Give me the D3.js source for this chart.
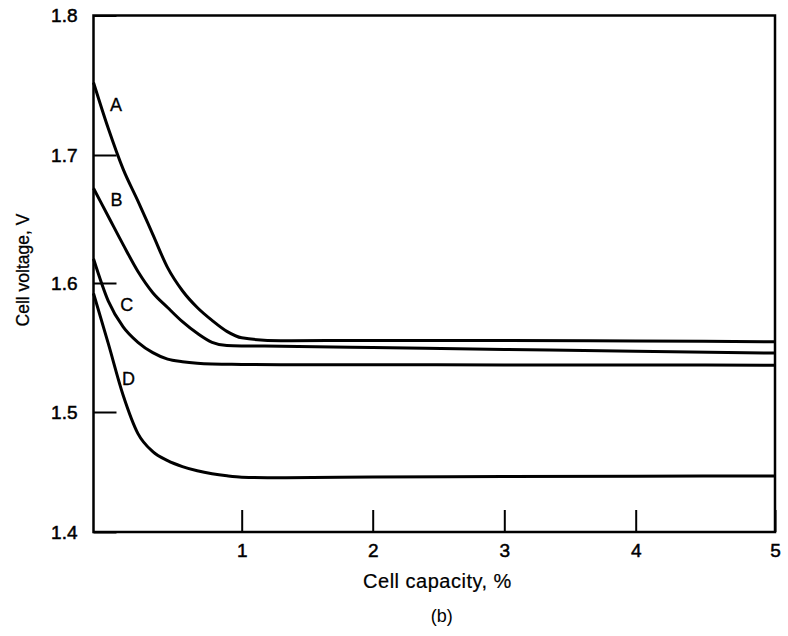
<!DOCTYPE html>
<html>
<head>
<meta charset="utf-8">
<script src="https://cdn.jsdelivr.net/npm/d3@7/dist/d3.min.js"></script>
<style>
  html, body { margin: 0; padding: 0; background: #fff; }
  svg { display: block; }
  text { font-family: "Liberation Sans", Arial, Helvetica, sans-serif; fill: #000; }
</style>
</head>
<body>
<svg id="chart" width="788" height="636"></svg>
<script>
// ---- data ----
const capacity = [0, 0.1, 0.2, 0.3, 0.4, 0.5, 0.6, 0.7, 0.8, 0.9, 1.0, 1.3, 2, 3, 4, 5];
const voltageA = [1.752, 1.719, 1.689, 1.664, 1.638, 1.612, 1.594, 1.581, 1.571, 1.5625, 1.5575, 1.5552, 1.5555, 1.5555, 1.555, 1.5545];
const voltageB = [1.674, 1.652, 1.630, 1.609, 1.5925, 1.581, 1.570, 1.561, 1.554, 1.5515, 1.5512, 1.5510, 1.5500, 1.5485, 1.547, 1.5457];
const voltageC = [1.619, 1.586, 1.566, 1.554, 1.546, 1.541, 1.539, 1.5378, 1.5372, 1.537, 1.5368, 1.5366, 1.5366, 1.5365, 1.5364, 1.5363];
const voltageD = [1.592, 1.553, 1.513, 1.482, 1.467, 1.4595, 1.4545, 1.451, 1.4485, 1.4468, 1.4457, 1.4452, 1.4458, 1.4462, 1.4465, 1.4467];
const seriesNames = ["A", "B", "C", "D"];
const labelCapacity = [0.152, 0.155, 0.224, 0.236];
const labelVoltage = [1.736, 1.6656, 1.583, 1.5256];
const yTicks = [1.4, 1.5, 1.6, 1.7, 1.8];
const xTicks = [1, 2, 3, 4, 5];
const xTitle = "Cell capacity, %";
const yTitle = "Cell voltage, V";
const caption = "(b)";

(function () {
  // ---- layout ----
  const svg = d3.select("#chart");
  const pLeft = 93.5, pRight = 775, pTop = 15.5, pBottom = 532;

  // scales follow the (slightly uneven) printed tick spacing
  const x = d3.scaleLinear().domain([0, 1, 2, 3, 4, 5]).range([pLeft, 241.7, 372.7, 504.3, 635.7, pRight]);
  const y = d3.scaleLinear().domain([1.4, 1.5, 1.6, 1.7, 1.8]).range([pBottom, 412, 283, 155, pTop]);

  // y axis (ticks inward)
  const yAxis = svg.append("g")
    .attr("transform", `translate(${pLeft},0)`)
    .call(d3.axisLeft(y).tickValues(yTicks).tickFormat(d3.format(".1f")).tickSizeInner(-23).tickSizeOuter(0).tickPadding(16));
  yAxis.select(".domain").remove();
  yAxis.selectAll("line").attr("stroke", "#000").attr("stroke-width", 2);
  yAxis.selectAll("text").attr("font-size", 19).attr("fill", "#000")
    .attr("stroke", "#000").attr("stroke-width", 0.5)
    .style("font-family", '"Liberation Sans", Arial, sans-serif');

  // x axis (ticks inward)
  const xAxis = svg.append("g")
    .attr("transform", `translate(0,${pBottom})`)
    .call(d3.axisBottom(x).tickValues(xTicks).tickFormat(d3.format("d")).tickSizeInner(-22).tickSizeOuter(0).tickPadding(12));
  xAxis.select(".domain").remove();
  xAxis.selectAll("line").attr("stroke", "#000").attr("stroke-width", 2);
  xAxis.selectAll("text").attr("font-size", 19).attr("fill", "#000")
    .attr("stroke", "#000").attr("stroke-width", 0.5)
    .style("font-family", '"Liberation Sans", Arial, sans-serif');

  // frame
  svg.append("rect")
    .attr("x", pLeft).attr("y", pTop)
    .attr("width", pRight - pLeft).attr("height", pBottom - pTop)
    .attr("fill", "none").attr("stroke", "#000").attr("stroke-width", 2.5);

  // curves
  const allSeries = [voltageA, voltageB, voltageC, voltageD];
  const line = d3.line()
    .x((d, i) => x(capacity[i]))
    .y(d => y(d))
    .curve(d3.curveMonotoneX);

  svg.append("g").selectAll("path")
    .data(allSeries)
    .join("path")
    .attr("d", d => line(d))
    .attr("fill", "none")
    .attr("stroke", "#000")
    .attr("stroke-width", 3)
    .attr("stroke-linejoin", "round");

  // curve labels
  svg.append("g").selectAll("text")
    .data(seriesNames)
    .join("text")
    .attr("x", (d, i) => x(labelCapacity[i]))
    .attr("y", (d, i) => y(labelVoltage[i]))
    .attr("dy", "0.36em")
    .attr("text-anchor", "middle")
    .attr("font-size", 18)
    .attr("stroke", "#000").attr("stroke-width", 0.3)
    .text(d => d);

  // axis titles
  svg.append("text")
    .attr("x", 437.5).attr("y", 588)
    .attr("text-anchor", "middle")
    .attr("font-size", 20)
    .attr("letter-spacing", 0.5)
    .attr("stroke", "#000").attr("stroke-width", 0.2)
    .text(xTitle);

  svg.append("text")
    .attr("transform", "translate(28.5,270) rotate(-90)")
    .attr("text-anchor", "middle")
    .attr("font-size", 17.5)
    .attr("stroke", "#000").attr("stroke-width", 0.3)
    .text(yTitle);

  svg.append("text")
    .attr("x", 441.7).attr("y", 622)
    .attr("text-anchor", "middle")
    .attr("font-size", 18)
    .text(caption);
})();
</script>
</body>
</html>
